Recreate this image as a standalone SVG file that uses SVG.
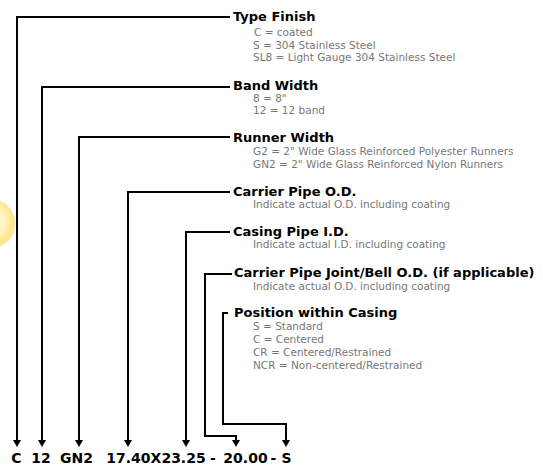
<svg xmlns="http://www.w3.org/2000/svg" width="543" height="468" viewBox="0 0 543 468">
<style>
.h{font-family:"DejaVu Sans","Verdana",sans-serif;font-weight:bold;font-size:13px;fill:#000}
.s{font-family:"DejaVu Sans","Verdana",sans-serif;font-size:10.5px;fill:#777}
.b{font-family:"DejaVu Sans","Verdana",sans-serif;font-weight:bold;font-size:14px;fill:#000;text-anchor:middle}
.c{fill:none;stroke:#000;stroke-width:2}
</style>
<defs>
<radialGradient id="sun" cx="0.45" cy="0.45" r="0.55">
<stop offset="0" stop-color="#fffef4"/>
<stop offset="0.6" stop-color="#fff3c0"/>
<stop offset="0.9" stop-color="#fde48a"/>
<stop offset="1" stop-color="#f8dc80" stop-opacity="0.6"/>
</radialGradient>
<marker id="ah" viewBox="0 0 8 8" refX="4" refY="0" markerWidth="8" markerHeight="8" markerUnits="userSpaceOnUse" orient="auto-start-reverse">
<path d="M0,0 L8,0 L4,7 Z" fill="#000"/>
</marker>
</defs>
<circle cx="-9" cy="224" r="24.5" fill="url(#sun)"/>
<g id="connectors">
<path class="c" d="M230,17 H17 V440"/>
<path d="M13,440 H21 L17,447 Z"/>
<path class="c" d="M230,87 H42 V440"/>
<path d="M38,440 H46 L42,447 Z"/>
<path class="c" d="M230,137 H79 V440"/>
<path d="M75,440 H83 L79,447 Z"/>
<path class="c" d="M230,192 H128 V440"/>
<path d="M124,440 H132 L128,447 Z"/>
<path class="c" d="M230,232 H186 V440"/>
<path d="M182,440 H190 L186,447 Z"/>
<path class="c" d="M232,274 H205 V436 H236 V440"/>
<path d="M232,440 H240 L236,447 Z"/>
<path class="c" d="M228,313 H223 V424 H286 V440"/>
<path d="M282,440 H290 L286,447 Z"/>
</g>
<g id="type-finish">
<text class="h" x="233" y="21">Type Finish</text>
<text class="s" x="254" y="36">C = coated</text>
<text class="s" x="253" y="48.5">S = 304 Stainless Steel</text>
<text class="s" x="253" y="61">SL8 = Light Gauge 304 Stainless Steel</text>
</g>
<g id="band-width">
<text class="h" x="233" y="89.5">Band Width</text>
<text class="s" x="253" y="101.5">8 = 8"</text>
<text class="s" x="253" y="114">12 = 12 band</text>
</g>
<g id="runner-width">
<text class="h" x="233" y="141.5">Runner Width</text>
<text class="s" x="253" y="155">G2 = 2" Wide Glass Reinforced Polyester Runners</text>
<text class="s" x="253" y="168">GN2 = 2" Wide Glass Reinforced Nylon Runners</text>
</g>
<g id="carrier-od">
<text class="h" x="233" y="195.5">Carrier Pipe O.D.</text>
<text class="s" x="253" y="208">Indicate actual O.D. including coating</text>
</g>
<g id="casing-id">
<text class="h" x="233" y="235.5">Casing Pipe I.D.</text>
<text class="s" x="253" y="248">Indicate actual I.D. including coating</text>
</g>
<g id="joint-od">
<text class="h" x="234" y="276.5">Carrier Pipe Joint/Bell O.D. (if applicable)</text>
<text class="s" x="253" y="290">Indicate actual O.D. including coating</text>
</g>
<g id="position">
<text class="h" x="234" y="317">Position within Casing</text>
<text class="s" x="253" y="330">S = Standard</text>
<text class="s" x="253" y="343">C = Centered</text>
<text class="s" x="253" y="356">CR = Centered/Restrained</text>
<text class="s" x="253" y="369">NCR = Non-centered/Restrained</text>
</g>
<g id="code">
<text class="b" x="16.5" y="463">C</text>
<text class="b" x="41" y="463">12</text>
<text class="b" x="76.5" y="463">GN2</text>
<text class="b" x="156" y="463">17.40X23.25</text>
<text class="b" x="213" y="463">-</text>
<text class="b" x="245.5" y="463">20.00</text>
<text class="b" x="273.5" y="463">-</text>
<text class="b" x="286.5" y="463">S</text>
</g>
</svg>
